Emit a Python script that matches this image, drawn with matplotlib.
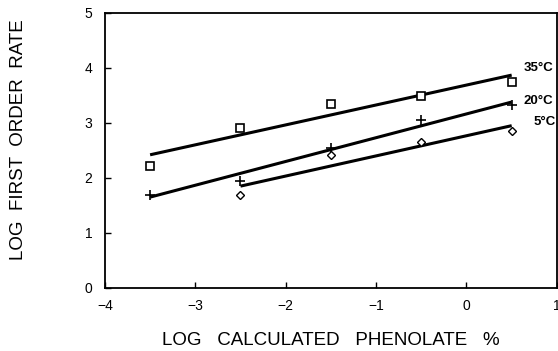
import numpy as np
from matplotlib import pyplot as plt

plt.rcParams['font.family'] = ['Liberation Sans', 'DejaVu Sans']

# measured points
x_pts = [-3.5, -2.5, -1.5, -0.5, 0.5]
y_35 = [2.21, 2.91, 3.35, 3.49, 3.75]
y_20 = [1.69, 1.95, 2.55, 3.05, 3.33]
x_5 = [-2.5, -1.5, -0.5, 0.5]
y_5 = [1.69, 2.42, 2.65, 2.85]

# fitted lines (end points)
fit_35_x = [-3.5, 0.5]
fit_35_y = [2.42, 3.87]
fit_20_x = [-3.5, 0.5]
fit_20_y = [1.65, 3.38]
fit_5_x = [-2.5, 0.5]
fit_5_y = [1.85, 2.95]

fig = plt.figure(figsize=(5.58, 3.51), dpi=100)
ax = fig.add_axes([0.188, 0.18, 0.81, 0.783])

for fx, fy in [(fit_35_x, fit_35_y), (fit_20_x, fit_20_y), (fit_5_x, fit_5_y)]:
    ax.plot(fx, fy, color='black', lw=2.2, solid_capstyle='butt')

ax.plot(x_pts, y_35, ls='none', marker='s', ms=6, mfc='white', mec='black', mew=1.2)
ax.plot(x_pts, y_20, ls='none', marker='+', ms=7, mec='black', mew=1.2)
ax.plot(x_5, y_5, ls='none', marker='D', ms=4.5, mfc='white', mec='black', mew=1.0)

ax.text(0.63, 4.0, "35°C", fontsize=9.5, fontweight='bold', ha='left', va='center')
ax.text(0.63, 3.4, "20°C", fontsize=9.5, fontweight='bold', ha='left', va='center')
ax.text(0.74, 3.02, "5°C", fontsize=9.5, fontweight='bold', ha='left', va='center')

ax.set_xlim(-4, 1)
ax.set_ylim(0, 5)
ax.set_xticks([-4, -3, -2, -1, 0, 1])
ax.set_xticklabels(['\u22124', '\u22123', '\u22122', '\u22121', '0', '1'])
ax.set_yticks([0, 1, 2, 3, 4, 5])
ax.tick_params(direction='in', length=4, width=1, labelsize=10, pad=8)
ax.tick_params(axis='y', pad=9)
for s in ax.spines.values():
    s.set_linewidth(1.3)

ax.set_xlabel('LOG   CALCULATED   PHENOLATE   %', fontsize=13.5, labelpad=14)
ax.set_ylabel('LOG  FIRST  ORDER  RATE', fontsize=13.5)
ax.yaxis.set_label_coords(-0.172, 0.54)

plt.savefig('out.png', dpi=100)
